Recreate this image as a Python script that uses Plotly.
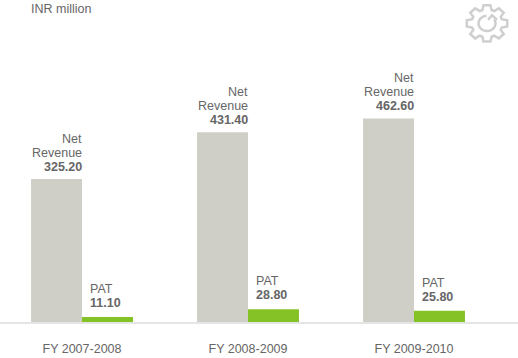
import math
import plotly.graph_objects as go

W, H = 518, 358
categories = ["FY 2007-2008", "FY 2008-2009", "FY 2009-2010"]
net_revenue = [325.20, 431.40, 462.60]
pat = [11.10, 28.80, 25.80]
unit_label = "INR million"
GREY, GREEN, TEXT = "#d0cfc7", "#84c225", "#666666"
FONT = "Liberation Sans, Arial, sans-serif"

fig = go.Figure()
fig.add_bar(x=categories, y=net_revenue, name="Net Revenue", marker_color=GREY, marker_line_width=0)
fig.add_bar(x=categories, y=pat, name="PAT", marker_color=GREEN, marker_line_width=0)

annotations = []
def label(c, y, text, anchor, xshift, yshift):
    annotations.append(dict(x=c, y=y, xref="x", yref="y", xanchor=anchor, yanchor="middle",
                            showarrow=False, xshift=xshift, yshift=yshift, text=text,
                            borderpad=0, borderwidth=0))
for c, r, p in zip(categories, net_revenue, pat):
    label(c, r, "Net", "right", 0, 40)
    label(c, r, "Revenue", "right", 0, 26)
    label(c, r, f"<b>{r:.2f}</b>", "right", 0, 12)
    label(c, p, "PAT", "left", 8, 28)
    label(c, p, f"<b>{p:.2f}</b>", "left", 8, 14)
annotations.append(dict(x=31/W, y=1-10/H, xref="paper", yref="paper", xanchor="left", yanchor="middle",
                        showarrow=False, text=unit_label, xshift=-2))

# settings-style gear icon (decoration)
cx, cy, teeth = 487.0, 26.0, 8
pts = []
for i in range(teeth):
    a = 2*math.pi*i/teeth - math.pi/2
    for da, rad in [(-0.30, 15.5), (-0.17, 20.5), (0.17, 20.5), (0.30, 15.5)]:
        pts.append((cx+rad*math.cos(a+da), cy+rad*math.sin(a+da)))
def px(x, y):
    return f"{x/W:.4f},{1-y/H:.4f}"
gear = "M " + " L ".join(px(*q) for q in pts) + " Z"
arc = [(cx+8.5*math.cos(t/20*5.2-0.55), cy+8.5*math.sin(t/20*5.2-0.55)) for t in range(21)]
arc_path = "M " + " L ".join(px(*q) for q in arc)
arrow = "M " + " L ".join(px(*q) for q in [(cx+1, cy-4), (cx+5, cy-9), (cx+10, cy-4)])
shapes = [dict(type="path", path=p, xref="paper", yref="paper",
               line=dict(color="#cfcfcf", width=2.5)) for p in (gear, arc_path, arrow)]

fig.update_layout(
    width=W, height=H, autosize=False, showlegend=False,
    barmode="group", bargap=0.386, bargroupgap=0,
    margin=dict(l=0, r=0, t=0, b=36),
    paper_bgcolor="white", plot_bgcolor="white",
    font=dict(family=FONT, size=12.5, color=TEXT),
    annotations=annotations, shapes=shapes,
    xaxis=dict(range=[-82/166, 436/166], showgrid=False, zeroline=False, showline=True,
               linecolor="#e5e5e5", linewidth=2, ticks="", ticklen=0, ticklabelstandoff=14,
               tickfont=dict(size=12.5, color=TEXT)),
    yaxis=dict(range=[0, 322/0.44], visible=False, showgrid=False, zeroline=False),
)
fig.write_html("out.html", config={"displayModeBar": False},
               post_script="document.body.style.margin='0';document.documentElement.style.overflow='hidden';")
